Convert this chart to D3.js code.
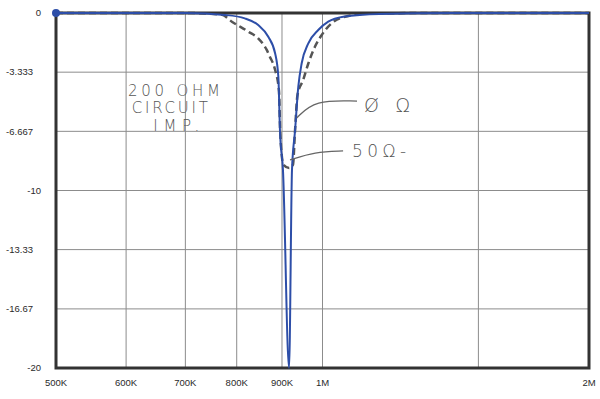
<!DOCTYPE html>
<html>
<head>
<meta charset="utf-8">
<script src="https://cdn.jsdelivr.net/npm/d3@7"></script>
<style>
  body { margin: 0; background: #fff; }
  #notch-chart text { font-family: "Liberation Sans", Arial, sans-serif; }
  #notch-chart .hand { font-family: "DejaVu Sans", sans-serif; font-weight: 200; fill: #555; }
</style>
</head>
<body>
<div id="notch-chart"></div>
<script>
// frequency in kHz, response in dB
const xTicks = [500, 600, 700, 800, 900, 1000, 2000];
const xTickLabels = ["500K", "600K", "700K", "800K", "900K", "1M", "2M"];
const xGrid = [600, 700, 800, 900, 1000, 1500];
const yTicks = [0, -3.333, -6.667, -10, -13.33, -16.67, -20];
const yTickLabels = ["0", "-3.333", "-6.667", "-10", "-13.33", "-16.67", "-20"];

// 0 ohm (solid blue)
const freq0 = [500, 700, 776, 817, 846, 868.5, 884, 891.5, 895.3, 902.3, 916.7, 923.7, 931, 939, 947.3, 963.8, 989, 1015, 1055.5, 1160, 1400, 2000];
const db0 = [0, 0, -0.11, -0.3, -0.68, -1.34, -2.27, -3.59, -6.65, -8.85, -20, -8.85, -6.65, -4.15, -2.83, -1.71, -0.96, -0.49, -0.21, -0.05, 0, 0];

// 50 ohm (dashed grey)
const freq50 = [500, 700, 770, 790, 824.5, 846, 865, 872, 884, 893, 896, 903.5, 916.7, 926, 931, 937, 951, 964, 980.5, 998, 1024, 1046.5, 1130, 1400, 2000];
const db50 = [0, 0, -0.1, -0.49, -1.05, -1.43, -2.08, -2.46, -3.2, -4.4, -6.8, -8.56, -8.73, -8.56, -6.65, -4.62, -3.77, -2.83, -1.9, -1.24, -0.58, -0.3, -0.02, 0, 0];

// handwritten notes on the scan
const notes = [
  { text: "200 OHM", f: 603, db: -4.7, len: 92, size: 15 },
  { text: "CIRCUIT", f: 609, db: -5.66, len: 76, size: 15 },
  { text: "IMP.", f: 644, db: -6.62, len: 46, size: 15 },
  { text: "Ø Ω", f: 1114, db: -5.58, len: 46, size: 19 },
  { text: "50Ω-", f: 1080, db: -8.11, len: 54, size: 17 }
];
const leaders = [
  [[935, -5.92], [980, -4.9], [1094, -4.96]],
  [[919, -8.28], [980, -7.83], [1055, -7.77]]
];

const margin = { top: 13, right: 11, bottom: 31, left: 56 },
      width = 600 - margin.left - margin.right,
      height = 399 - margin.top - margin.bottom;

const svg = d3.select("#notch-chart")
  .append("svg")
  .attr("width", width + margin.left + margin.right)
  .attr("height", height + margin.top + margin.bottom)
  .append("g")
  .attr("transform", `translate(${margin.left},${margin.top})`);

const x = d3.scaleLog()
  .domain([500, 2000])
  .range([0, width]);

const y = d3.scaleLinear()
  .domain([-20, 0])
  .range([height, 0]);

// grid
svg.selectAll(".vgrid")
  .data(xGrid)
  .enter()
  .append("line")
  .attr("x1", d => x(d)).attr("x2", d => x(d))
  .attr("y1", 0).attr("y2", height)
  .attr("stroke", "#8c8c8c")
  .attr("stroke-width", 1);

svg.selectAll(".hgrid")
  .data(yTicks.slice(1, -1))
  .enter()
  .append("line")
  .attr("x1", 0).attr("x2", width)
  .attr("y1", d => y(d)).attr("y2", d => y(d))
  .attr("stroke", "#8c8c8c")
  .attr("stroke-width", 1);

// tick labels
svg.selectAll(".xlab")
  .data(xTicks)
  .enter()
  .append("text")
  .attr("x", d => x(d))
  .attr("y", height + 18)
  .attr("text-anchor", "middle")
  .attr("font-size", "9.5px")
  .attr("fill", "#2a2a2a")
  .text((d, i) => xTickLabels[i]);

svg.selectAll(".ylab")
  .data(yTicks)
  .enter()
  .append("text")
  .attr("x", (d, i) => yTickLabels[i].length > 3 ? -23 : -15)
  .attr("y", d => y(d))
  .attr("dy", "0.35em")
  .attr("text-anchor", "end")
  .attr("font-size", "9.5px")
  .attr("fill", "#2a2a2a")
  .text((d, i) => yTickLabels[i]);

const line = d3.line()
  .x(d => x(d[0]))
  .y(d => y(d[1]))
  .curve(d3.curveMonotoneX);

svg.append("path")
  .datum(d3.zip(freq50, db50))
  .attr("fill", "none")
  .attr("stroke", "#555")
  .attr("stroke-width", 2.5)
  .attr("stroke-dasharray", "7,4")
  .attr("d", line);

// frame
svg.append("rect")
  .attr("width", width)
  .attr("height", height)
  .attr("fill", "none")
  .attr("stroke", "#333")
  .attr("stroke-width", 3);

svg.append("path")
  .datum(d3.zip(freq0, db0))
  .attr("fill", "none")
  .attr("stroke", "#2d4ea8")
  .attr("stroke-width", 2)
  .attr("d", line);

svg.append("circle")
  .attr("cx", x(freq0[0]))
  .attr("cy", y(db0[0]))
  .attr("r", 4)
  .attr("fill", "#2d4ea8");

// annotations
const leader = d3.line()
  .x(d => x(d[0]))
  .y(d => y(d[1]))
  .curve(d3.curveBasis);

svg.selectAll(".leader")
  .data(leaders)
  .enter()
  .append("path")
  .attr("fill", "none")
  .attr("stroke", "#666")
  .attr("stroke-width", 1.3)
  .attr("d", leader);

svg.selectAll(".hand")
  .data(notes)
  .enter()
  .append("text")
  .attr("class", "hand")
  .attr("x", d => x(d.f))
  .attr("y", d => y(d.db))
  .attr("font-size", d => d.size + "px")
  .attr("textLength", d => d.len)
  .attr("lengthAdjust", "spacing")
  .text(d => d.text);
</script>
</body>
</html>
